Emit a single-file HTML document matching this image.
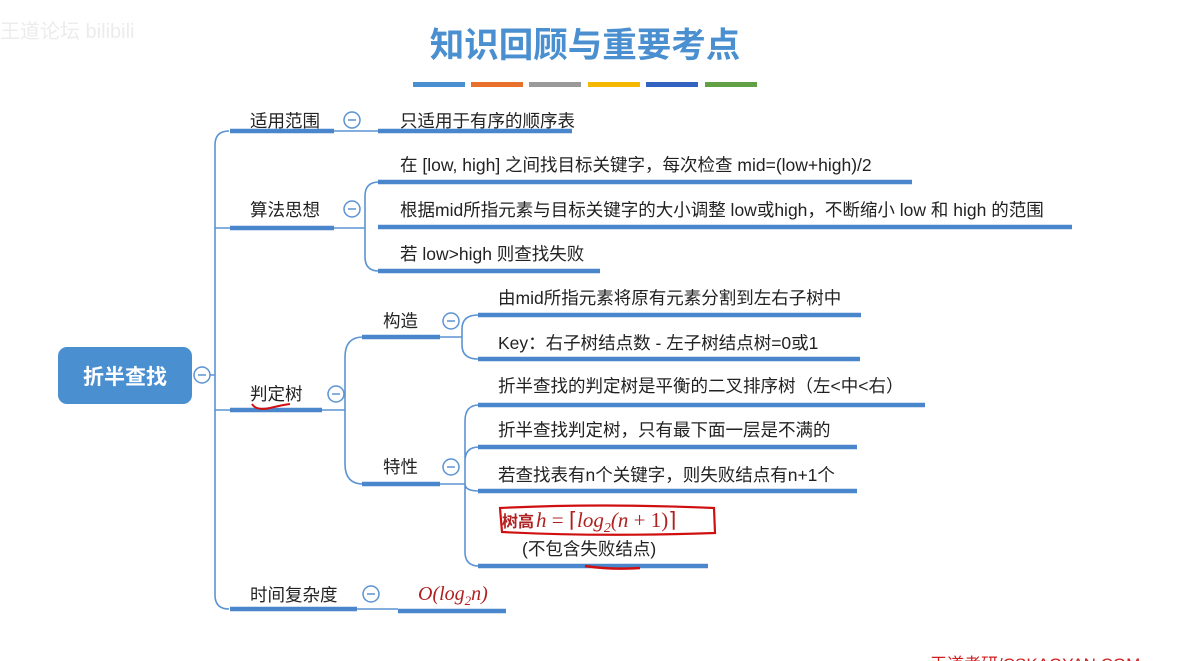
<!DOCTYPE html>
<html><head><meta charset="utf-8"><style>
html,body{margin:0;padding:0;background:#fff;}
svg{display:block;}
text{font-family:"Liberation Sans","Noto Sans CJK SC",sans-serif;fill:#222;}
.t{font-size:17.5px;}
.bar{stroke:#4a86cc;stroke-width:4.5;fill:none;}
.ln{stroke:#5b93d3;stroke-width:1.6;fill:none;}
.c{fill:#fff;stroke:#5b93d3;stroke-width:1.5;}
.m{stroke:#5b93d3;stroke-width:1.5;}
</style></head><body>
<svg width="1180" height="661" viewBox="0 0 1180 661" xmlns="http://www.w3.org/2000/svg">
<text x="0" y="38" style="font-size:20px;fill:#ececec;">王道论坛 bilibili</text>
<text x="585" y="57" text-anchor="middle" style="font-size:34.5px;font-weight:bold;fill:#4a8fd0;">知识回顾与重要考点</text>
<rect x="413" y="82" width="52" height="5" fill="#4a8fd0"/>
<rect x="471" y="82" width="52" height="5" fill="#e8702a"/>
<rect x="529" y="82" width="52" height="5" fill="#9a9a9a"/>
<rect x="588" y="82" width="52" height="5" fill="#f5b800"/>
<rect x="646" y="82" width="52" height="5" fill="#3462c0"/>
<rect x="705" y="82" width="52" height="5" fill="#62a046"/>

<rect x="58" y="347" width="134" height="57" rx="9" fill="#4a8fd0"/>
<text x="125" y="384" text-anchor="middle" style="font-size:21px;font-weight:bold;fill:#fff;">折半查找</text>
<circle class="c" cx="202" cy="375" r="8"/><line class="m" x1="198" y1="375" x2="206" y2="375"/>

<path class="ln" d="M210 375 H215 M215 375 V145 Q215 131 229 131 M215 375 V595 Q215 609 229 609 M215 228 H230 M215 410 H230"/>
<line class="bar" x1="230" y1="131" x2="334" y2="131"/>
<line class="bar" x1="230" y1="228" x2="334" y2="228"/>
<line class="bar" x1="230" y1="410" x2="322" y2="410"/>
<line class="bar" x1="230" y1="609" x2="357" y2="609"/>
<text class="t" x="250" y="127">适用范围</text>
<text class="t" x="250" y="216">算法思想</text>
<text class="t" x="250" y="400">判定树</text>
<text class="t" x="250" y="601">时间复杂度</text>
<path d="M252 404 Q256 411 270 408 Q282 405 290 404" stroke="#d01010" stroke-width="2" fill="none"/>

<circle class="c" cx="352" cy="120" r="8"/><line class="m" x1="348" y1="120" x2="356" y2="120"/>
<circle class="c" cx="352" cy="209" r="8"/><line class="m" x1="348" y1="209" x2="356" y2="209"/>
<circle class="c" cx="336" cy="394" r="8"/><line class="m" x1="332" y1="394" x2="340" y2="394"/>
<circle class="c" cx="371" cy="594" r="8"/><line class="m" x1="367" y1="594" x2="375" y2="594"/>

<path class="ln" d="M334 131 H378"/>
<line class="bar" x1="378" y1="131" x2="572" y2="131"/>
<text class="t" x="400" y="127">只适用于有序的顺序表</text>

<path class="ln" d="M334 228 H365 M365 228 V196 Q365 182 379 182 M365 228 V257 Q365 271 379 271"/>
<line class="bar" x1="378" y1="182" x2="912" y2="182"/>
<line class="bar" x1="378" y1="227" x2="1072" y2="227"/>
<line class="bar" x1="378" y1="271" x2="600" y2="271"/>
<text class="t" x="400" y="171">在 [low, high] 之间找目标关键字，每次检查 mid=(low+high)/2</text>
<text class="t" x="400" y="216">根据mid所指元素与目标关键字的大小调整 low或high，不断缩小 low 和 high 的范围</text>
<text class="t" x="400" y="260">若 low&gt;high 则查找失败</text>

<path class="ln" d="M322 410 H345 M345 410 V357 Q345 337 363 337 M345 410 V464 Q345 484 363 484"/>
<line class="bar" x1="362" y1="337" x2="440" y2="337"/>
<line class="bar" x1="362" y1="484" x2="440" y2="484"/>
<text class="t" x="383" y="327">构造</text>
<text class="t" x="383" y="473">特性</text>
<circle class="c" cx="451" cy="321" r="8"/><line class="m" x1="447" y1="321" x2="455" y2="321"/>
<circle class="c" cx="451" cy="467" r="8"/><line class="m" x1="447" y1="467" x2="455" y2="467"/>

<path class="ln" d="M440 337 H462 M462 337 V329 Q462 315 478 315 M462 337 V345 Q462 359 478 359"/>
<line class="bar" x1="478" y1="315" x2="861" y2="315"/>
<line class="bar" x1="478" y1="359" x2="860" y2="359"/>
<text class="t" x="498" y="304">由mid所指元素将原有元素分割到左右子树中</text>
<text class="t" x="498" y="349">Key：右子树结点数 - 左子树结点树=0或1</text>

<path class="ln" d="M440 484 H465 M465 484 V421 Q465 405 479 405 M465 484 V552 Q465 566 479 566 M465 467 V461 Q465 447 479 447 M465 484 Q465 491 479 491"/>
<line class="bar" x1="478" y1="405" x2="925" y2="405"/>
<line class="bar" x1="478" y1="447" x2="857" y2="447"/>
<line class="bar" x1="478" y1="491" x2="857" y2="491"/>
<line class="bar" x1="478" y1="566" x2="708" y2="566"/>
<text class="t" x="498" y="392">折半查找的判定树是平衡的二叉排序树（左&lt;中&lt;右）</text>
<text class="t" x="498" y="436">折半查找判定树，只有最下面一层是不满的</text>
<text class="t" x="498" y="481">若查找表有n个关键字，则失败结点有n+1个</text>
<text x="502" y="527" style="font-size:16px;font-weight:bold;fill:#b02020;">树高</text>
<text x="536" y="527" style="font-family:'Liberation Serif',serif;font-size:21px;font-style:italic;fill:#b02020;">h <tspan font-style="normal">= ⌈</tspan>log<tspan font-size="14" dy="5">2</tspan><tspan dy="-5">(n </tspan><tspan font-style="normal">+ 1)⌉</tspan></text>
<path d="M500 508 Q600 503 714 508 L715 533 Q600 537 502 532 Z" stroke="#d01010" stroke-width="2.2" fill="none"/>
<text class="t" x="522" y="555">(不包含失败结点)</text>
<path d="M585 566 Q612 570 640 568" stroke="#d01010" stroke-width="2.5" fill="none"/>

<path class="ln" d="M357 609 H398"/>
<line class="bar" x1="398" y1="611" x2="506" y2="611"/>
<text x="418" y="600" style="font-family:'Liberation Serif',serif;font-size:20px;font-style:italic;fill:#b02020;">O(log<tspan font-size="13" dy="5">2</tspan><tspan dy="-5">n)</tspan></text>

<text x="930" y="670" style="font-size:17px;fill:#d02020;">王道考研/CSKAOYAN.COM</text>
</svg>
</body></html>
